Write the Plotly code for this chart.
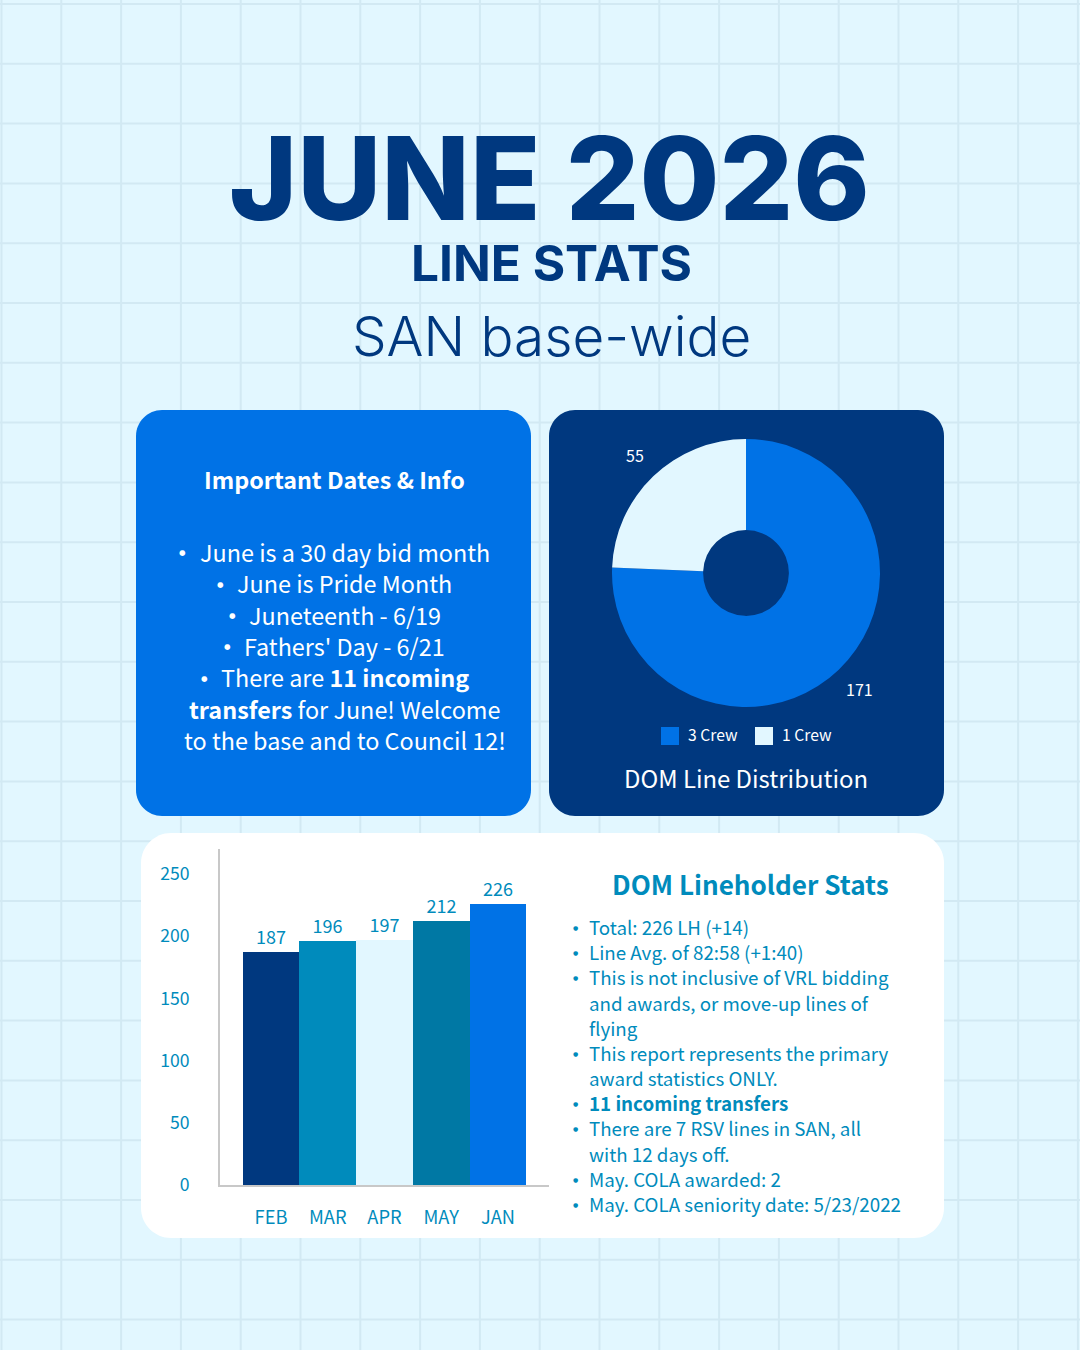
import plotly.graph_objects as go

# chart values
months = ["FEB", "MAR", "APR", "MAY", "JAN"]
lineholders = [187, 196, 197, 212, 226]
bar_colors = ["#00387F", "#008BBC", "#E2F7FF", "#0078A4", "#0072E6"]
y_ticks = [0, 50, 100, 150, 200, 250]

crew_labels = ["3 Crew", "1 Crew"]
crew_values = [171, 55]
crew_colors = ["#0072E6", "#E2F7FF"]

dates_lines = [
    "June is a 30 day bid month",
    "June is Pride Month",
    "Juneteenth - 6/19",
    "Fathers' Day - 6/21",
    "There are <b>11 incoming</b>",
    "<b>transfers</b> for June! Welcome",
    "to the base and to Council 12!",
]
dates_dots = [182, 220, 232, 227, 204]
stats_lines = [
    (True, "Total: 226 LH (+14)"),
    (True, "Line Avg. of 82:58 (+1:40)"),
    (True, "This is not inclusive of VRL bidding"),
    (False, "and awards, or move-up lines of"),
    (False, "flying"),
    (True, "This report represents the primary"),
    (False, "award statistics ONLY."),
    (True, "<b>11 incoming transfers</b>"),
    (True, "There are 7 RSV lines in SAN, all"),
    (False, "with 12 days off."),
    (True, "May. COLA awarded: 2"),
    (True, "May. COLA seniority date: 5/23/2022"),
]

W, H = 1080, 1350
NAVY = "#00387F"
BLUE = "#0072E6"
TEAL = "#008BBC"
PALE = "#E2F7FF"
GRID = "#D2E9F3"
BODY = "Noto Sans CJK SC"


def px(x):
    return x / W


def py(y):
    return 1 - y / H


def rounded(x0, y0, x1, y1, r, color):
    # pixel box -> svg path in paper coordinates
    k = 0.45 * r
    pts = [
        f"M{px(x0 + r)},{py(y0)}", f"L{px(x1 - r)},{py(y0)}",
        f"C{px(x1 - k)},{py(y0)} {px(x1)},{py(y0 + k)} {px(x1)},{py(y0 + r)}",
        f"L{px(x1)},{py(y1 - r)}",
        f"C{px(x1)},{py(y1 - k)} {px(x1 - k)},{py(y1)} {px(x1 - r)},{py(y1)}",
        f"L{px(x0 + r)},{py(y1)}",
        f"C{px(x0 + k)},{py(y1)} {px(x0)},{py(y1 - k)} {px(x0)},{py(y1 - r)}",
        f"L{px(x0)},{py(y0 + r)}",
        f"C{px(x0)},{py(y0 + k)} {px(x0 + k)},{py(y0)} {px(x0 + r)},{py(y0)}Z",
    ]
    return dict(type="path", xref="paper", yref="paper", path=" ".join(pts),
                fillcolor=color, line_width=0, layer="below")


def label(x, y, text, size, color, family=BODY, anchor="center", weight=None):
    font = dict(family=family, size=size, color=color)
    if weight:
        font["weight"] = weight
    return dict(x=px(x), y=py(y), xref="paper", yref="paper", text=text, showarrow=False,
                xanchor=anchor, yanchor="middle", font=font)


shapes = []
for i in range(19):
    xg = 1.5 + i * 59.8
    shapes.append(dict(type="line", xref="paper", yref="paper", x0=px(xg), x1=px(xg), y0=0, y1=1,
                       line=dict(color=GRID, width=2), layer="below"))
for i in range(23):
    yg = 4 + i * 59.8
    shapes.append(dict(type="line", xref="paper", yref="paper", x0=0, x1=1, y0=py(yg), y1=py(yg),
                       line=dict(color=GRID, width=2), layer="below"))

shapes.append(rounded(136, 410, 531, 816, 26, BLUE))
shapes.append(rounded(549, 410, 944, 816, 26, NAVY))
shapes.append(rounded(141, 833, 944, 1238, 30, "#FFFFFF"))

# pie legend keys
shapes.append(dict(type="rect", xref="paper", yref="paper", x0=px(661), x1=px(679), y0=py(745), y1=py(727),
                   fillcolor=crew_colors[0], line_width=0))
shapes.append(dict(type="rect", xref="paper", yref="paper", x0=px(755), x1=px(773), y0=py(745), y1=py(727),
                   fillcolor=crew_colors[1], line_width=0))

notes = [
    label(549, 178, "JUNE 2026", 115.7, NAVY, "Inter", weight=800),
    label(551, 263, "LINE STATS", 49.6, NAVY, "Inter", weight=700),
    label(551, 336, "SAN base-wide", 54.8, NAVY, "Inter", weight=300),
    label(334, 479, "<b>Important Dates &amp; Info</b>", 23.3, "#FFFFFF"),
    label(635, 455, str(crew_values[1]), 16, "#FFFFFF"),
    label(859, 689, str(crew_values[0]), 16, "#FFFFFF"),
    label(686, 735, crew_labels[0], 15.7, "#FFFFFF", anchor="left"),
    label(780, 735, crew_labels[1], 15.7, "#FFFFFF", anchor="left"),
    label(746, 777, "DOM Line Distribution", 23.9, "#FFFFFF"),
    label(750, 884, "<b>DOM Lineholder Stats</b>", 26.1, TEAL),
]
for i, line in enumerate(dates_lines):
    y_line = 552 + i * 31.3
    notes.append(label(344.5, y_line, line, 23.4, "#FFFFFF"))
    if i < len(dates_dots):
        notes.append(label(dates_dots[i], y_line + 1, "●", 7.5, "#FFFFFF", "DejaVu Sans"))
for i, (dot, line) in enumerate(stats_lines):
    y_line = 926.5 + i * 25.17
    if dot:
        notes.append(label(575, y_line + 1, "●", 6, TEAL, "DejaVu Sans"))
    notes.append(label(587, y_line, line, 18.75, TEAL, anchor="left"))

fig = go.Figure()
fig.add_trace(go.Bar(
    x=list(range(len(months))),
    y=lineholders,
    width=1,
    marker=dict(color=bar_colors, line_width=0),
    text=lineholders,
    textposition="outside",
    cliponaxis=False,
    textfont=dict(family=BODY, size=18, color=TEAL),
    showlegend=False,
))
fig.add_trace(go.Pie(
    labels=crew_labels,
    values=crew_values,
    hole=0.32,
    sort=False,
    direction="clockwise",
    rotation=0,
    marker=dict(colors=crew_colors, line_width=0),
    textinfo="none",
    automargin=False,
    domain=dict(x=[px(612), px(880)], y=[py(707), py(439)]),
    showlegend=False,
))

fig.update_layout(
    width=W,
    height=H,
    margin=dict(l=0, r=0, t=0, b=0),
    paper_bgcolor=PALE,
    plot_bgcolor="rgba(0,0,0,0)",
    shapes=shapes,
    annotations=notes,
    bargap=0,
    xaxis=dict(
        automargin=False,
        domain=[px(220), px(549)],
        range=[-0.9, 4.9],
        tickmode="array",
        tickvals=list(range(len(months))),
        ticktext=months,
        ticks="outside",
        ticklen=15,
        tickcolor="rgba(0,0,0,0)",
        tickfont=dict(family=BODY, size=18.3, color=TEAL),
        showline=True,
        linecolor="#C8C8C8",
        linewidth=2,
        showgrid=False,
        zeroline=False,
    ),
    yaxis=dict(
        automargin=False,
        domain=[py(1185), py(849)],
        range=[0, 270],
        tickmode="array",
        tickvals=y_ticks,
        ticks="outside",
        ticklen=25,
        tickfont=dict(family=BODY, size=17.6, color=TEAL),
        tickcolor="rgba(0,0,0,0)",
        showline=True,
        linecolor="#C8C8C8",
        linewidth=2,
        showgrid=False,
        zeroline=False,
    ),
)

fig.write_html("out.html", config={"displayModeBar": False}, post_script="document.body.style.margin='0';")
